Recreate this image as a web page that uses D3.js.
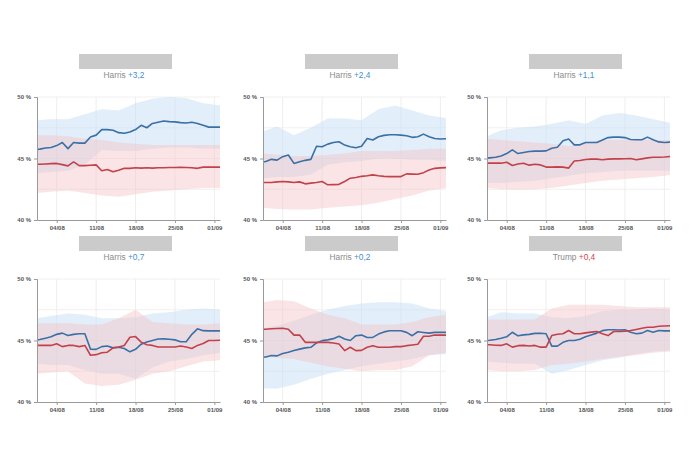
<!DOCTYPE html>
<html><head><meta charset="utf-8">
<script src="https://cdn.jsdelivr.net/npm/d3@7"></script>
<style>
body{margin:0;background:#fff}
svg{display:block;font-family:"Liberation Sans",Arial,Helvetica,sans-serif}
</style>
</head><body>
<svg id="chart" width="700" height="450"></svg>
<script>
// ---------- DATA ----------
const dates = ["2024-07-31T12","2024-08-01T00","2024-08-02T00","2024-08-03T00","2024-08-04T00","2024-08-05T00","2024-08-06T00","2024-08-07T00","2024-08-08T00","2024-08-09T00","2024-08-10T00","2024-08-11T00","2024-08-12T00","2024-08-13T00","2024-08-14T00","2024-08-15T00","2024-08-16T00","2024-08-17T00","2024-08-18T00","2024-08-19T00","2024-08-20T00","2024-08-21T00","2024-08-22T00","2024-08-23T00","2024-08-24T00","2024-08-25T00","2024-08-26T00","2024-08-27T00","2024-08-28T00","2024-08-29T00","2024-08-30T00","2024-08-31T00","2024-09-01T00","2024-09-02T00"];
const bandDates = ["2024-07-31T12","2024-08-03T00","2024-08-06T00","2024-08-09T00","2024-08-12T00","2024-08-15T00","2024-08-18T00","2024-08-21T00","2024-08-24T00","2024-08-27T00","2024-08-30T00","2024-09-02T00"];
const xTickLabels = ["04/08","11/08","18/08","25/08","01/09"];
const yTicks = [40,45,50];
const yGrid = [42.5,45,47.5,50];

const leaders = ["Harris","Harris","Harris","Harris","Harris","Trump"];
const margins = ["+3,2","+2,4","+1,1","+0,7","+0,2","+0,4"];

// Panel 1
const harris1 = [45.74,45.76,45.85,45.9,46.05,46.3,45.8,46.3,46.25,46.25,46.75,46.9,47.35,47.35,47.3,47.1,47.05,47.15,47.35,47.7,47.5,47.85,47.95,48.05,48.0,47.98,47.92,47.88,47.95,47.85,47.7,47.55,47.55,47.55];
const trump1 = [44.53,44.53,44.55,44.58,44.6,44.5,44.4,44.72,44.42,44.42,44.45,44.48,44.0,44.1,43.92,44.05,44.2,44.2,44.25,44.22,44.25,44.22,44.25,44.25,44.27,44.27,44.28,44.27,44.25,44.2,44.3,44.3,44.3,44.3];
const harrisHi1 = [48.1,48.2,48.2,48.6,49.0,48.9,49.5,49.85,50.0,49.9,49.5,49.3];
const harrisLo1 = [43.8,43.9,44.0,44.5,45.7,45.6,45.6,45.8,45.9,45.9,45.8,45.8];
const trumpHi1 = [46.9,46.9,46.8,46.6,46.5,46.3,46.2,46.1,46.1,46.1,46.1,46.1];
const trumpLo1 = [42.2,42.3,42.4,42.2,42.0,41.9,42.1,42.3,42.4,42.5,42.6,42.6];

// Panel 2
const harris2 = [44.72,44.75,44.93,44.87,45.15,45.28,44.6,44.74,44.85,44.93,46.0,45.96,46.17,46.3,46.36,46.09,45.96,45.88,46.0,46.63,46.5,46.77,46.88,46.93,46.93,46.9,46.85,46.72,46.77,46.98,46.77,46.63,46.58,46.6];
const trump2 = [43.05,43.05,43.05,43.1,43.13,43.1,43.05,43.1,42.94,43.0,43.05,43.13,42.86,42.88,42.9,43.13,43.4,43.45,43.55,43.6,43.67,43.6,43.55,43.53,43.53,43.53,43.75,43.73,43.72,43.85,44.07,44.2,44.24,44.26];
const harrisHi2 = [47.2,47.6,46.9,47.5,48.25,48.25,48.1,49.0,49.3,48.9,48.5,48.3];
const harrisLo2 = [43.4,43.5,43.5,43.7,44.5,44.7,44.8,45.0,45.0,44.9,44.9,44.8];
const trumpHi2 = [45.4,45.3,45.2,45.2,45.3,45.4,45.6,45.6,45.6,45.7,45.8,45.8];
const trumpLo2 = [41.0,40.9,40.85,40.85,41.0,41.1,41.2,41.4,41.7,42.0,42.4,42.6];

// Panel 3
const harris3 = [45.03,45.05,45.1,45.2,45.4,45.7,45.4,45.49,45.57,45.6,45.6,45.62,45.84,45.92,46.45,46.58,46.11,46.11,46.3,46.3,46.3,46.5,46.7,46.74,46.74,46.7,46.55,46.52,46.52,46.74,46.52,46.35,46.3,46.33];
const trump3 = [44.62,44.62,44.62,44.62,44.7,44.43,44.55,44.62,44.46,44.53,44.48,44.3,44.3,44.32,44.3,44.22,44.8,44.84,44.92,44.95,44.95,44.9,44.95,44.97,44.97,44.98,45.0,44.9,44.97,45.05,45.1,45.1,45.12,45.16];
const harrisHi3 = [46.8,47.3,47.5,47.6,47.8,48.1,47.8,48.5,48.7,48.5,48.2,47.9];
const harrisLo3 = [43.0,43.0,43.1,43.2,43.4,43.6,43.8,43.9,44.0,44.0,44.0,44.0];
const trumpHi3 = [46.6,46.5,46.4,46.3,46.2,46.0,46.3,46.5,46.5,46.6,46.5,46.5];
const trumpLo3 = [42.6,42.5,42.45,42.5,42.6,42.8,43.0,43.2,43.3,43.4,43.5,43.65];

// Panel 4
const harris4 = [45.05,45.08,45.19,45.3,45.5,45.6,45.4,45.5,45.55,45.55,44.3,44.28,44.5,44.55,44.4,44.45,44.35,44.08,44.28,44.7,44.88,45.0,45.12,45.13,45.1,45.05,44.9,44.9,45.5,45.95,45.8,45.78,45.78,45.78];
const trump4 = [44.6,44.6,44.6,44.6,44.73,44.5,44.6,44.6,44.5,44.6,43.8,43.85,44.0,44.05,44.4,44.47,44.6,45.26,45.32,44.87,44.65,44.6,44.47,44.47,44.47,44.47,44.55,44.47,44.35,44.6,44.75,45.0,45.0,45.02];
const harrisHi4 = [46.8,47.0,47.2,47.1,46.8,46.8,46.9,47.2,47.3,47.5,47.6,47.5];
const harrisLo4 = [43.1,43.0,43.0,42.6,42.3,42.3,41.9,42.8,43.3,43.5,43.8,44.0];
const trumpHi4 = [46.4,46.4,46.4,46.3,46.3,46.8,47.5,46.5,46.4,46.3,46.3,46.4];
const trumpLo4 = [42.3,42.4,42.5,41.5,41.3,41.4,41.8,42.3,42.5,42.9,43.3,43.4];

// Panel 5
const harris5 = [43.65,43.66,43.78,43.75,43.95,44.05,44.18,44.3,44.4,44.45,44.8,44.99,45.05,45.15,45.34,45.12,45.0,45.39,45.44,45.25,45.25,45.52,45.7,45.79,45.79,45.79,45.66,45.39,45.71,45.65,45.6,45.66,45.66,45.66];
const trump5 = [45.92,45.92,45.95,45.97,46.0,45.92,45.44,45.44,44.85,44.85,44.85,44.85,44.85,44.8,44.72,44.18,44.45,44.18,44.2,44.45,44.58,44.45,44.45,44.45,44.5,44.5,44.58,44.64,44.7,45.34,45.34,45.44,45.44,45.44];
const harrisHi5 = [46.0,46.2,46.6,47.1,47.5,47.8,48.0,48.1,48.1,48.0,47.6,47.4];
const harrisLo5 = [41.1,41.1,41.4,41.9,42.3,42.6,42.9,43.1,43.3,43.5,43.8,43.9];
const trumpHi5 = [48.1,48.3,48.2,47.6,47.1,46.8,46.3,46.3,46.3,46.5,46.9,47.1];
const trumpLo5 = [43.7,43.6,43.5,43.2,42.9,42.7,42.5,42.6,42.6,42.9,43.8,44.0];

// Panel 6
const harris6 = [45.0,45.02,45.08,45.18,45.3,45.67,45.38,45.46,45.5,45.58,45.59,45.55,44.54,44.54,44.85,45.0,45.0,45.1,45.3,45.45,45.6,45.8,45.88,45.88,45.85,45.87,45.67,45.55,45.6,45.81,45.67,45.81,45.78,45.78];
const trump6 = [44.65,44.65,44.62,44.6,44.73,44.46,44.58,44.6,44.55,44.6,44.46,44.46,45.4,45.51,45.55,45.81,45.55,45.55,45.62,45.68,45.73,45.55,45.4,45.73,45.73,45.75,45.81,45.9,46.0,46.08,46.08,46.16,46.18,46.2];
const harrisHi6 = [46.9,47.3,47.2,47.2,46.9,46.8,47.0,47.4,47.5,47.5,47.6,47.5];
const harrisLo6 = [43.3,43.2,43.1,43.1,42.3,42.6,43.0,43.4,43.6,43.9,44.1,44.2];
const trumpHi6 = [46.7,46.7,46.7,46.7,47.6,47.9,47.9,47.9,47.8,47.7,47.7,47.7];
const trumpLo6 = [42.6,42.5,42.5,42.6,43.0,43.1,43.3,43.5,43.7,43.8,44.0,44.1];

// ---------- BUILD ----------
const parseT = d3.timeParse("%Y-%m-%dT%H");
const parseTick = d3.timeParse("%d/%m/%Y");
const D = dates.map(parseT);
const BD = bandDates.map(parseT);

const panels = [
  {h:harris1,t:trump1,hh:harrisHi1,hl:harrisLo1,th:trumpHi1,tl:trumpLo1},
  {h:harris2,t:trump2,hh:harrisHi2,hl:harrisLo2,th:trumpHi2,tl:trumpLo2},
  {h:harris3,t:trump3,hh:harrisHi3,hl:harrisLo3,th:trumpHi3,tl:trumpLo3},
  {h:harris4,t:trump4,hh:harrisHi4,hl:harrisLo4,th:trumpHi4,tl:trumpLo4},
  {h:harris5,t:trump5,hh:harrisHi5,hl:harrisLo5,th:trumpHi5,tl:trumpLo5},
  {h:harris6,t:trump6,hh:harrisHi6,hl:harrisLo6,th:trumpHi6,tl:trumpLo6}
];

const BLUE = "#3a70a6", RED = "#c2414a";
const colLeft = [37, 263, 487];
const rowTop = [97, 279];
const W = 183, H = 123;

const svg = d3.select("#chart");
const x = d3.scaleTime().domain([parseT("2024-07-31T12"), parseT("2024-09-02T00")]).range([0, W]);
const y = d3.scaleLinear().domain([40, 50]).range([H, 0]);
const tickDates = xTickLabels.map(l => parseTick(l + "/2024"));

panels.forEach((p, i) => {
  const L = colLeft[i % 3], T = rowTop[Math.floor(i / 3)];
  const g = svg.append("g").attr("transform", `translate(${L},${T})`);

  // title placeholder (blurred box) + subtitle
  svg.append("rect").attr("x", L + 42).attr("y", T - 43).attr("width", 93).attr("height", 15)
    .attr("fill", "#cbcbcb");
  const st = svg.append("text").attr("x", L + 87).attr("y", T - 19)
    .attr("text-anchor", "middle").attr("font-size", 8.3).attr("fill", "#8a8a8a");
  st.append("tspan").text(leaders[i] + " ");
  st.append("tspan").attr("fill", leaders[i] === "Trump" ? "#d0474f" : "#3f8fd0").text(margins[i]);

  // grid
  g.selectAll(".hg").data(yGrid).join("line")
    .attr("x1", 0).attr("x2", W).attr("y1", d => y(d)).attr("y2", d => y(d))
    .attr("stroke", "#f0f0f0").attr("stroke-width", 1);
  g.selectAll(".vg").data(tickDates).join("line")
    .attr("x1", d => x(d)).attr("x2", d => x(d)).attr("y1", 0).attr("y2", H)
    .attr("stroke", "#eeeeee").attr("stroke-width", 1);

  // bands
  const band = (lo, hi) => d3.area().x((d, k) => x(BD[k])).y0((d, k) => y(lo[k])).y1((d, k) => y(hi[k]));
  g.append("path").datum(p.hh).attr("d", band(p.hl, p.hh)).attr("fill", "#c6ddf3").attr("fill-opacity", 0.5);
  g.append("path").datum(p.th).attr("d", band(p.tl, p.th)).attr("fill", "#f3c3c5").attr("fill-opacity", 0.45);

  // lines
  const line = d3.line().x((d, k) => x(D[k])).y(d => y(d));
  g.append("path").datum(p.h).attr("d", line).attr("fill", "none").attr("stroke", BLUE).attr("stroke-width", 1.6).attr("stroke-linejoin", "round");
  g.append("path").datum(p.t).attr("d", line).attr("fill", "none").attr("stroke", RED).attr("stroke-width", 1.6).attr("stroke-linejoin", "round");

  // axes
  const ya = g.append("g").call(d3.axisLeft(y).tickValues(yTicks).tickSize(3).tickFormat(d => d + " %"));
  ya.select(".domain").attr("stroke", "#9a9a9a");
  ya.selectAll(".tick line").attr("stroke", "#9a9a9a");
  ya.selectAll("text").attr("font-size", 6).attr("fill", "#555").attr("font-weight", "bold")
    .attr("font-family", "Liberation Sans, Arial, sans-serif");

  const xa = g.append("g").attr("transform", `translate(0,${H})`)
    .call(d3.axisBottom(x).tickValues(tickDates).tickSize(3).tickSizeOuter(0).tickFormat(d3.timeFormat("%d/%m")));
  xa.select(".domain").attr("stroke", "#9a9a9a");
  xa.selectAll(".tick line").attr("stroke", "#9a9a9a");
  xa.selectAll("text").attr("font-size", 6).attr("fill", "#555").attr("font-weight", "bold")
    .attr("font-family", "Liberation Sans, Arial, sans-serif");
});
</script>
</body></html>
